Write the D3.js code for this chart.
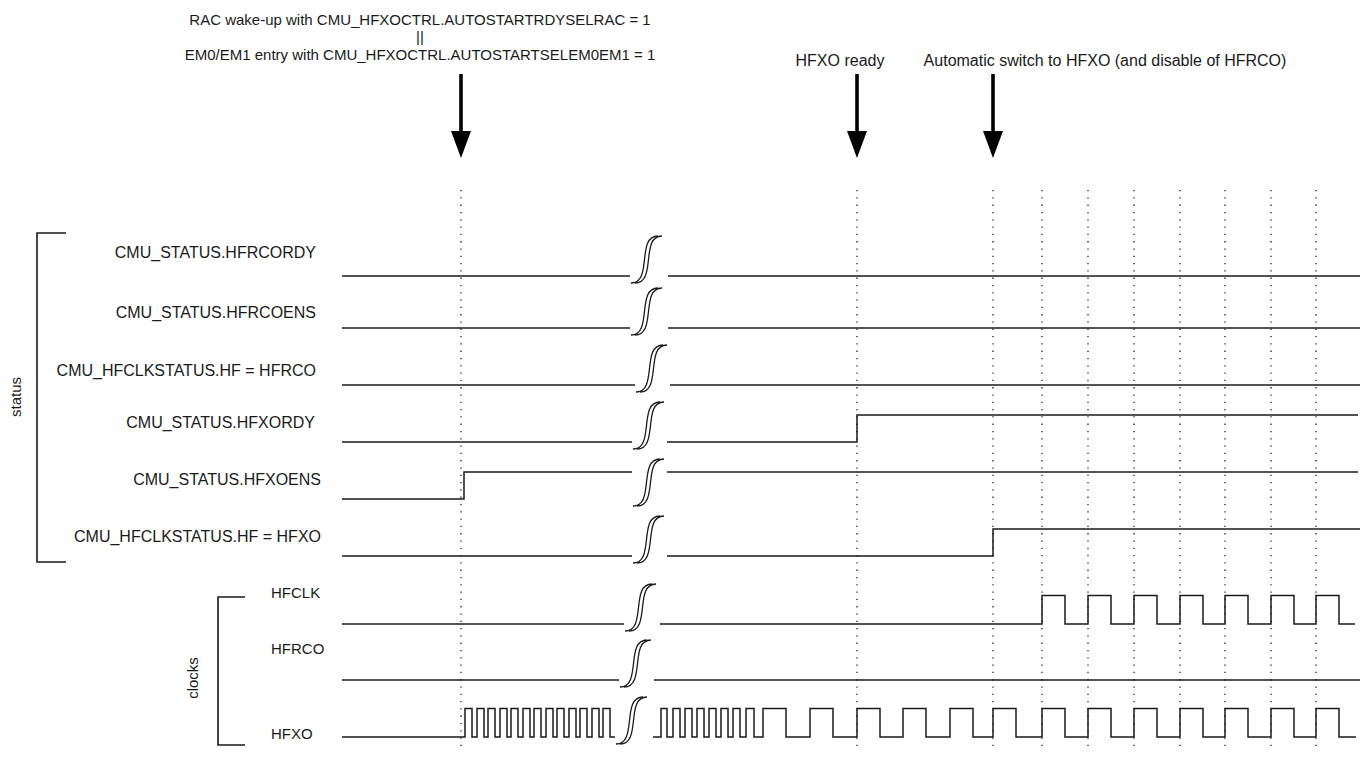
<!DOCTYPE html>
<html>
<head>
<meta charset="utf-8">
<script src="https://cdn.jsdelivr.net/npm/d3@7"></script>
<style>
  html, body { margin: 0; padding: 0; background: #fff; }
  svg { display: block; font-family: "Liberation Sans", Arial, sans-serif; }
</style>
</head>
<body>
<svg id="chart" width="1364" height="760"></svg>
<script>
// ---------------- DATA ----------------
// signal names (rows, top to bottom)
const signalNames = [
  "CMU_STATUS.HFRCORDY",
  "CMU_STATUS.HFRCOENS",
  "CMU_HFCLKSTATUS.HF = HFRCO",
  "CMU_STATUS.HFXORDY",
  "CMU_STATUS.HFXOENS",
  "CMU_HFCLKSTATUS.HF = HFXO",
  "HFCLK",
  "HFRCO",
  "HFXO"
];
const signalGroups = ["status","status","status","status","status","status","clocks","clocks","clocks"];
const groupNames = ["status", "clocks"];

// toggle times (arbitrary time units); every signal starts low
const hfrcordyEdges = [];
const hfrcoensEdges = [];
const hfSelHfrcoEdges = [];
const hfxordyEdges = [515];
const hfxoensEdges = [122];
const hfSelHfxoEdges = [651];
const hfclkEdges = [700,723, 746,769, 792,815, 838,861, 883,906, 929,952, 974,997];
const hfrcoEdges = [];
const hfxoEdges = [
  123,130, 135,142, 146,153, 158,165, 169,176, 181,188, 192,199, 204,211,
  215,222, 227,234, 238,245, 250,257, 261,268,
  319,325, 331,338, 343,350, 355,362, 367,374, 379,386, 391,398, 404,412,
  421,444, 468,491, 515,538, 561,584, 608,631, 651,674, 700,723, 746,769,
  792,815, 838,861, 883,906, 929,952, 974,997
];
const signalEdges = [hfrcordyEdges, hfrcoensEdges, hfSelHfrcoEdges, hfxordyEdges,
  hfxoensEdges, hfSelHfxoEdges, hfclkEdges, hfrcoEdges, hfxoEdges];

// time-axis break (left end of waveform, restart after break)
const breakLeft  = [288, 288, 293, 290, 290, 290, 282, 277, 273];
const breakRight = [326, 326, 328, 325, 325, 325, 318, 312, 311];
const signalEnd  = [1018, 1018, 1018, 1016, 1016, 1018, 1013, 1018, 1014];

// dotted event markers (time)
const markerTimes = [119, 515, 651, 700, 746, 792, 838, 883, 929, 974];

// annotated events
const eventTimes = [119, 515, 651];
const eventLabels = [
  ["RAC wake-up with CMU_HFXOCTRL.AUTOSTARTRDYSELRAC = 1", "||", "EM0/EM1 entry with CMU_HFXOCTRL.AUTOSTARTSELEM0EM1 = 1"],
  ["HFXO ready"],
  ["Automatic switch to HFXO (and disable of HFRCO)"]
];

// ---------------- LAYOUT ----------------
const svg = d3.select("#chart");
const x = d3.scaleLinear().domain([0, 1020]).range([342, 1362]);
const rowY = d3.scaleOrdinal().domain(signalNames)
  .range([276, 328, 385, 442, 499, 556, 624, 680, 737]);
const amp = { status: 27, clocks: 28.5 };
const labelDy = [-18, -10, -9, -14, -14, -14, -26, -26, 2];
const labelX = [316, 316, 316, 315, 321, 321, 271, 271, 271];
const labelSize = { status: 16, clocks: 15 };
const ink = "#1a1a1a";

// dotted markers
svg.append("g").selectAll("line").data(markerTimes).join("line")
  .attr("x1", d => x(d)).attr("x2", d => x(d))
  .attr("y1", 190).attr("y2", 752)
  .attr("stroke", "#222").attr("stroke-width", 1.3)
  .attr("stroke-dasharray", "1.3,6");

// event arrows + labels
const ev = svg.append("g");
eventTimes.forEach((t, i) => {
  const cx = x(t);
  ev.append("line").attr("x1", cx).attr("x2", cx).attr("y1", 74).attr("y2", 133)
    .attr("stroke", "#000").attr("stroke-width", 3.6);
  ev.append("path").attr("d", `M${cx-10},131 L${cx+10},131 L${cx},158 Z`).attr("fill", "#000");
});
const y0s = [25, 42, 60];
eventLabels[0].forEach((s, j) => {
  ev.append("text").attr("x", 420).attr("y", y0s[j]).attr("text-anchor", "middle")
    .attr("font-size", 15).attr("fill", ink).text(s);
});
ev.append("text").attr("x", 840).attr("y", 66).attr("text-anchor", "middle")
  .attr("font-size", 16).attr("fill", ink).text(eventLabels[1][0]);
ev.append("text").attr("x", 1105).attr("y", 66).attr("text-anchor", "middle")
  .attr("font-size", 16).attr("fill", ink).text(eventLabels[2][0]);

// waveforms
const line = d3.line().curve(d3.curveStepAfter).x(d => x(d[0])).y(d => d[1]);
function buildPoints(edges, t0, t1, base, a) {
  let level = 0;
  edges.forEach(e => { if (e < t0) level = 1 - level; });
  const pts = [[t0, base - level * a]];
  edges.forEach(e => {
    if (e >= t0 && e <= t1) { level = 1 - level; pts.push([e, base - level * a]); }
  });
  pts.push([t1, base - level * a]);
  return pts;
}
const wg = svg.append("g");
signalNames.forEach((name, i) => {
  const base = rowY(name);
  const a = amp[signalGroups[i]];
  const edges = signalEdges[i];
  const seg1 = buildPoints(edges, 0, breakLeft[i], base, a);
  const seg2 = buildPoints(edges, breakRight[i], signalEnd[i], base, a);
  [seg1, seg2].forEach(seg => {
    wg.append("path").attr("d", line(seg)).attr("fill", "none")
      .attr("stroke", ink).attr("stroke-width", 1.5);
  });
  // break symbol: two parallel integral-like curves
  const bx = x(breakLeft[i]) + 1;
  const yb = base + 7, yt = base - 40;
  [0, 4].forEach(off => {
    const x0 = bx + off, x1 = bx + off + 27;
    wg.append("path")
      .attr("d", `M${x0},${yb} C${x0+22},${yb} ${x1-22},${yt} ${x1},${yt}`)
      .attr("fill", "none").attr("stroke", ink).attr("stroke-width", 1.3);
  });
  // label
  const grp = signalGroups[i];
  wg.append("text")
    .attr("x", labelX[i])
    .attr("y", base + labelDy[i])
    .attr("text-anchor", grp === "status" ? "end" : "start")
    .attr("font-size", labelSize[grp]).attr("fill", ink).text(name);
});

// group brackets
const brackets = [
  { name: groupNames[0], x: 37, y1: 233, y2: 562, tick: 29, lx: 21, ly: 397 },
  { name: groupNames[1], x: 218, y1: 597, y2: 745, tick: 27, lx: 198, ly: 678 }
];
const bg = svg.append("g");
brackets.forEach(b => {
  bg.append("path")
    .attr("d", `M${b.x + b.tick},${b.y1} H${b.x} V${b.y2} H${b.x + b.tick}`)
    .attr("fill", "none").attr("stroke", ink).attr("stroke-width", 1.6);
  bg.append("text").attr("transform", `translate(${b.lx},${b.ly}) rotate(-90)`)
    .attr("text-anchor", "middle").attr("font-size", 15).attr("fill", ink).text(b.name);
});
</script>
</body>
</html>
